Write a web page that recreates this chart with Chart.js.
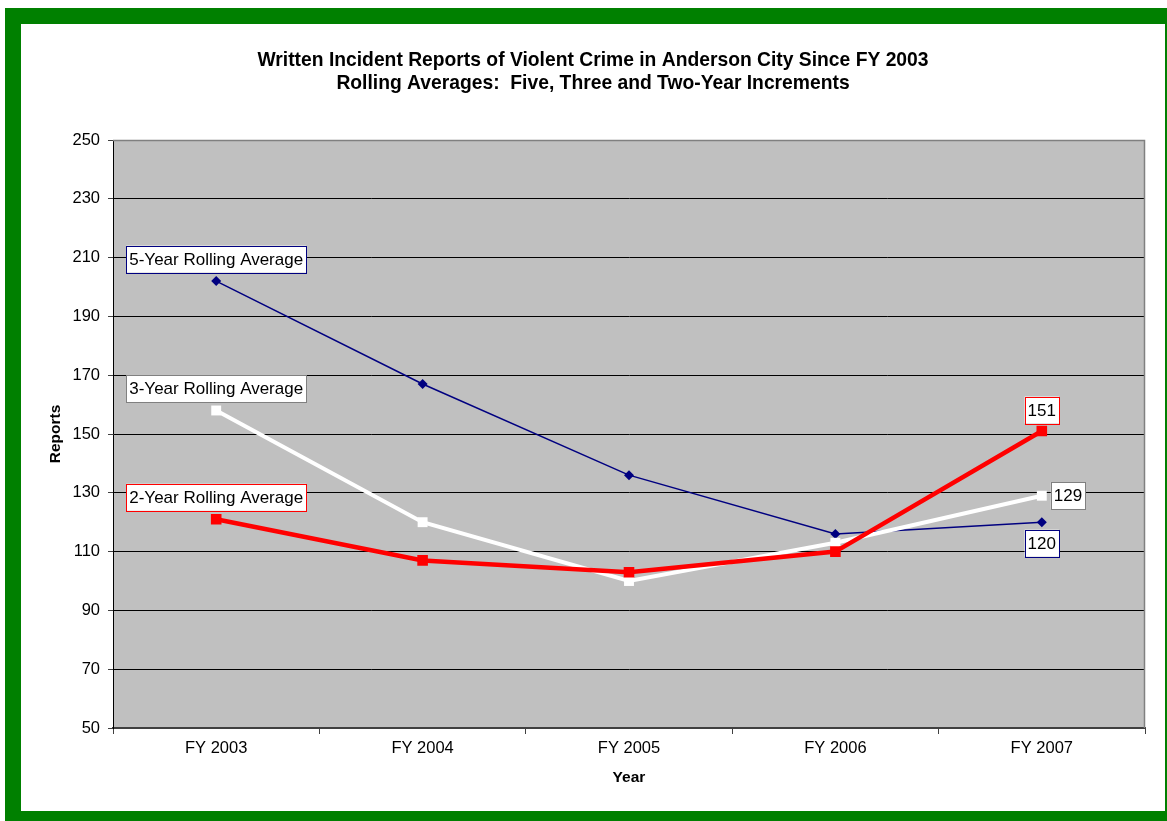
<!DOCTYPE html>
<html><head><meta charset="utf-8">
<script src="https://cdn.jsdelivr.net/npm/chart.js@4"></script>
<style>
html,body{margin:0;padding:0;width:1167px;height:821px;overflow:hidden;background:#fff;}
#frame{position:absolute;left:5px;top:8px;width:1144px;height:787px;border:16px solid #008000;background:#fff;}
#c{position:absolute;left:0;top:0;width:1144px;height:787px;}
</style></head><body>
<div id="frame"><canvas id="c" width="1144" height="787"></canvas></div>
<script>
const titleLines = ['Written Incident Reports of Violent Crime in Anderson City Since FY 2003', 'Rolling Averages:  Five, Three and Two-Year Increments'];
const categories = ['FY 2003', 'FY 2004', 'FY 2005', 'FY 2006', 'FY 2007'];
const fiveYear = [202, 167, 136, 116, 120];
const threeYear = [158, 120, 100, 113, 129];
const twoYear = [121, 107, 103, 110, 151];
const yMin = 50, yMax = 250, yStep = 20;
const yTitle = 'Reports';
const xTitle = 'Year';

const FONT = '"Liberation Sans", Arial, sans-serif';

const plotBg = {
  id: 'plotBg',
  beforeDraw(chart) {
    const {ctx, chartArea: a} = chart;
    ctx.save();
    ctx.fillStyle = '#C0C0C0';
    ctx.fillRect(a.left, a.top, a.right - a.left, a.bottom - a.top);
    ctx.restore();
  },
  beforeDatasetsDraw(chart) {
    const {ctx, chartArea: a} = chart;
    ctx.save();
    ctx.strokeStyle = '#808080';
    ctx.lineWidth = 1.5;
    ctx.beginPath();
    ctx.moveTo(a.left, a.top + 0.5);
    ctx.lineTo(a.right - 0.5, a.top + 0.5);
    ctx.lineTo(a.right - 0.5, a.bottom);
    ctx.stroke();
    ctx.restore();
  }
};

function drawBox(ctx, text, cx, cy, border, anchor) {
  ctx.font = '17px ' + FONT;
  const w = ctx.measureText(text).width + 6;
  const h = 27;
  let left = anchor === 'left' ? cx : cx - w / 2;
  const top = cy - h / 2;
  ctx.fillStyle = '#FFFFFF';
  ctx.fillRect(left, top, w, h);
  ctx.strokeStyle = border;
  ctx.lineWidth = 1;
  ctx.strokeRect(Math.round(left) + 0.5, Math.round(top) + 0.5, Math.round(w), h);
  ctx.fillStyle = '#000';
  ctx.textBaseline = 'middle';
  ctx.textAlign = 'center';
  ctx.fillText(text, left + w / 2, cy + 1);
}

const labelPlugin = {
  id: 'labelBoxes',
  afterDatasetsDraw(chart) {
    const ctx = chart.ctx;
    ctx.save();
    chart.data.datasets.forEach((ds, i) => {
      const meta = chart.getDatasetMeta(i);
      const first = meta.data[0];
      const last = meta.data[meta.data.length - 1];
      drawBox(ctx, ds.label, first.x, first.y - 22, ds.boxBorder, 'center');
      const v = String(ds.data[ds.data.length - 1]);
      if (ds.valuePos === 'above') drawBox(ctx, v, last.x, last.y - 21, ds.boxBorder, 'center');
      else if (ds.valuePos === 'below') drawBox(ctx, v, last.x, last.y + 21, ds.boxBorder, 'center');
      else drawBox(ctx, v, last.x + 9, last.y, ds.boxBorder, 'left');
    });
    ctx.restore();
  }
};

new Chart(document.getElementById('c'), {
  type: 'line',
  data: {
    labels: categories,
    datasets: [
      {
        label: '2-Year Rolling Average', data: twoYear,
        borderColor: '#FF0000', backgroundColor: '#FF0000', borderWidth: 4.5,
        pointStyle: 'rect', pointRadius: 7.5, pointBorderWidth: 0, pointHoverRadius: 7.5,
        boxBorder: '#FF0000', valuePos: 'above', tension: 0
      },
      {
        label: '3-Year Rolling Average', data: threeYear,
        borderColor: '#FFFFFF', backgroundColor: '#FFFFFF', borderWidth: 4,
        pointStyle: 'rect', pointRadius: 7, pointBorderWidth: 0, pointHoverRadius: 7,
        boxBorder: '#808080', valuePos: 'right', tension: 0
      },
      {
        label: '5-Year Rolling Average', data: fiveYear,
        borderColor: '#000080', backgroundColor: '#000080', borderWidth: 1.5,
        pointStyle: 'rectRot', pointRadius: 5, pointBorderWidth: 0, pointHoverRadius: 5,
        boxBorder: '#000080', valuePos: 'below', tension: 0
      }
    ]
  },
  options: {
    responsive: false,
    animation: false,
    devicePixelRatio: 1,
    layout: {padding: {left: 20, right: 20, top: 0, bottom: 15}},
    plugins: {
      legend: {display: false},
      tooltip: {enabled: false},
      title: {
        display: true, text: titleLines, color: '#000',
        font: {family: FONT, size: 19.3, weight: 'bold', lineHeight: 23 / 19.3},
        padding: {top: 25.5, bottom: 44.5}
      }
    },
    scales: {
      x: {
        type: 'category', offset: true,
        grid: {display: true, drawOnChartArea: false, drawTicks: true, tickLength: 6, tickColor: '#404040', offset: true},
        border: {display: true, color: '#404040', width: 2},
        ticks: {color: '#000', font: {family: FONT, size: 16.5}, padding: 5, maxRotation: 0},
        title: {display: true, text: xTitle, color: '#000', font: {family: FONT, size: 15.5, weight: 'bold'}, padding: {top: 0, bottom: 9}},
        afterFit(s) { s.height = 68; }
      },
      y: {
        min: yMin, max: yMax,
        grid: {
          color: (c) => c.tick && c.tick.value === yMax ? '#808080' : '#000000',
          lineWidth: 1, drawTicks: true, tickLength: 5, tickColor: '#404040'
        },
        border: {display: true, color: '#000', width: 1},
        ticks: {stepSize: yStep, color: '#000', font: {family: FONT, size: 16.5}, padding: 8},
        title: {display: true, text: yTitle, color: '#000', font: {family: FONT, size: 15.5, weight: 'bold'}, padding: {top: 5, bottom: 0}},
        afterFit(s) { s.width = 72; }
      }
    }
  },
  plugins: [plotBg, labelPlugin]
});
</script>
</body></html>
